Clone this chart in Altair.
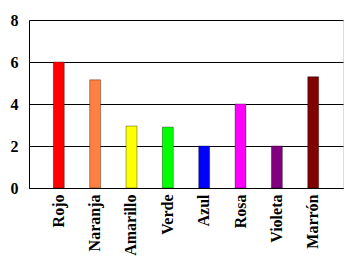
import altair as alt
import pandas as pd

categorias = ["Rojo", "Naranja", "Amarillo", "Verde", "Azul", "Rosa", "Violeta", "Marrón"]
valores = [6, 5.15, 2.95, 2.9, 2, 4, 2, 5.3]
colores = ["#FF0000", "#FF8040", "#FFFF00", "#00FF00", "#0000FF", "#FF00FF", "#800080", "#800000"]
y_ticks = [0, 2, 4, 6, 8]

df = pd.DataFrame({"cat": categorias, "val": valores, "col": colores})

chart = alt.Chart(df).mark_bar(stroke="#000000", strokeWidth=0.6, strokeOpacity=0.6).encode(
    x=alt.X("cat:N", sort=categorias, title=None,
            scale=alt.Scale(paddingInner=0.7, paddingOuter=0.67),
            axis=alt.Axis(labelAngle=-90, ticks=False, domainColor="black", domainWidth=1,
                          labelFont="Liberation Serif", labelFontWeight="bold", labelFontSize=16,
                          labelColor="black", labelPadding=6)),
    y=alt.Y("val:Q", title=None, scale=alt.Scale(domain=[0, 8], nice=False),
            axis=alt.Axis(values=y_ticks, ticks=False, grid=True, gridColor="black", gridWidth=1,
                          gridOpacity=1, domainColor="black", domainWidth=1,
                          labelFont="Liberation Serif", labelFontWeight="bold", labelFontSize=16,
                          labelColor="black", labelPadding=11)),
    color=alt.Color("col:N", scale=None, legend=None),
).properties(
    width=314, height=168,
    autosize=alt.AutoSizeParams(type="none"),
    padding={"left": 29, "top": 20, "right": 15, "bottom": 77},
).configure_view(stroke="black", strokeWidth=1).configure(background="white")

chart.save("out.html", embed_options={"renderer": "svg", "actions": False})
